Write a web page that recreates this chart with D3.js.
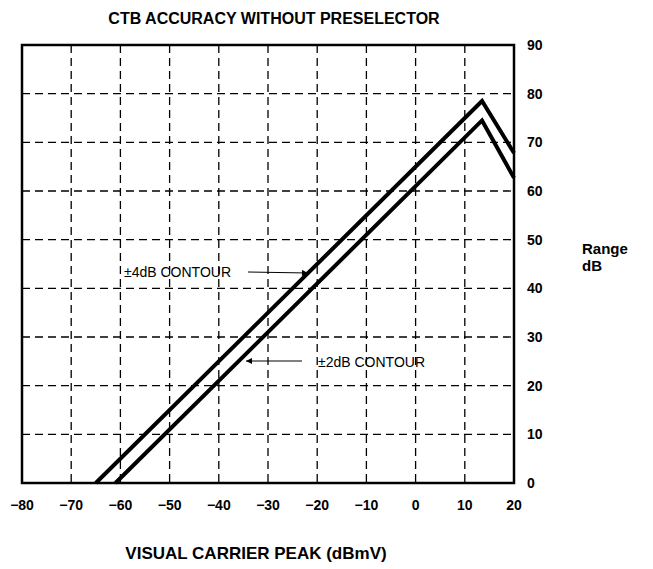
<!DOCTYPE html>
<html>
<head>
<meta charset="utf-8">
<script src="https://cdn.jsdelivr.net/npm/d3@7"></script>
<style>
  body { margin: 0; background: #fff; }
  svg text { font-family: "Liberation Sans", Arial, sans-serif; fill: #000; }
</style>
</head>
<body>
<svg id="chart" width="653" height="569"></svg>
<script>
// data
const xTicks = [-80, -70, -60, -50, -40, -30, -20, -10, 0, 10, 20];
const yTicks = [0, 10, 20, 30, 40, 50, 60, 70, 80, 90];
const contour4X = [-65, 13.5, 20];
const contour4Y = [0, 78.5, 67.8];
const contour2X = [-61, 13.5, 20];
const contour2Y = [0, 74.5, 62.7];

const svg = d3.select("#chart");
const m = { left: 22, right: 514, top: 45, bottom: 483 };

const x = d3.scaleLinear().domain([-80, 20]).range([m.left, m.right]);
const y = d3.scaleLinear().domain([0, 90]).range([m.bottom, m.top]);

// grid
svg.append("g").selectAll("line")
    .data(xTicks.slice(1, -1))
    .join("line")
    .attr("x1", d => x(d)).attr("x2", d => x(d))
    .attr("y1", m.top).attr("y2", m.bottom)
    .attr("stroke", "#000").attr("stroke-width", 1.3)
    .attr("stroke-dasharray", "8,5");

svg.append("g").selectAll("line")
    .data(yTicks.slice(1, -1))
    .join("line")
    .attr("x1", m.left).attr("x2", m.right)
    .attr("y1", d => y(d)).attr("y2", d => y(d))
    .attr("stroke", "#000").attr("stroke-width", 1.3)
    .attr("stroke-dasharray", "8,5");

// frame
svg.append("rect")
    .attr("x", m.left).attr("y", m.top)
    .attr("width", m.right - m.left).attr("height", m.bottom - m.top)
    .attr("fill", "none").attr("stroke", "#000").attr("stroke-width", 2.5);

// contours
const line = d3.line().x(d => x(d[0])).y(d => y(d[1]));
[[contour4X, contour4Y], [contour2X, contour2Y]].forEach(([xs, ys]) => {
    svg.append("path")
        .attr("d", line(xs.map((v, i) => [v, ys[i]])))
        .attr("fill", "none").attr("stroke", "#000")
        .attr("stroke-width", 4).attr("stroke-linejoin", "miter");
});

// tick labels
svg.append("g").selectAll("text")
    .data(xTicks)
    .join("text")
    .attr("x", d => x(d)).attr("y", 510)
    .attr("text-anchor", "middle")
    .style("font-size", "14px").style("font-weight", "bold")
    .text(d => d < 0 ? "\u2212" + Math.abs(d) : d);

svg.append("g").selectAll("text")
    .data(yTicks)
    .join("text")
    .attr("x", 527).attr("y", d => y(d) + 5)
    .style("font-size", "14px").style("font-weight", "bold")
    .text(d => d);

// titles
svg.append("text")
    .attr("x", 274).attr("y", 24).attr("text-anchor", "middle")
    .style("font-size", "16px").style("font-weight", "bold")
    .text("CTB ACCURACY WITHOUT PRESELECTOR");

svg.append("text")
    .attr("x", 256).attr("y", 559).attr("text-anchor", "middle")
    .style("font-size", "17px").style("font-weight", "bold")
    .text("VISUAL CARRIER PEAK (dBmV)");

const rl = svg.append("text")
    .attr("x", 582).attr("y", 254)
    .style("font-size", "15px").style("font-weight", "bold");
rl.append("tspan").attr("x", 582).text("Range");
rl.append("tspan").attr("x", 582).attr("dy", 17).text("dB");

// annotations
svg.append("defs").append("marker")
    .attr("id", "arr").attr("viewBox", "0 0 10 10")
    .attr("refX", 10).attr("refY", 5)
    .attr("markerWidth", 9).attr("markerHeight", 6)
    .attr("markerUnits", "userSpaceOnUse")
    .attr("orient", "auto")
    .append("path").attr("d", "M0,0L10,5L0,10Z").attr("fill", "#000");

svg.append("text")
    .attr("x", 124).attr("y", 277)
    .style("font-size", "14px")
    .text("\u00b14dB CONTOUR");
svg.append("line")
    .attr("x1", 248).attr("y1", 272).attr("x2", 308).attr("y2", 273)
    .attr("stroke", "#000").attr("stroke-width", 1)
    .attr("marker-end", "url(#arr)");

svg.append("text")
    .attr("x", 318).attr("y", 367)
    .style("font-size", "14px")
    .text("\u00b12dB CONTOUR");
svg.append("line")
    .attr("x1", 302).attr("y1", 361).attr("x2", 246).attr("y2", 361)
    .attr("stroke", "#000").attr("stroke-width", 1)
    .attr("marker-end", "url(#arr)");
</script>
</body>
</html>
